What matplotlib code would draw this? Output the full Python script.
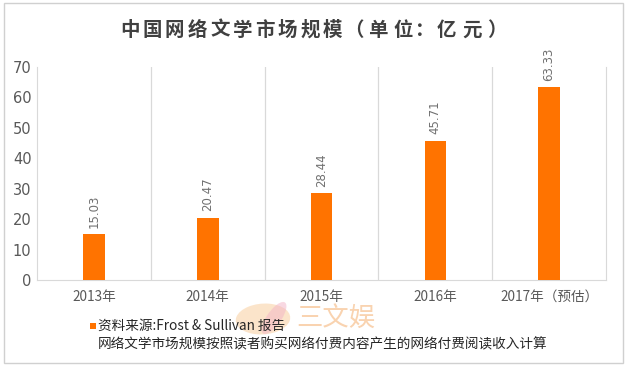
import matplotlib.pyplot as plt
from matplotlib.patches import Rectangle, Ellipse

plt.rcParams['font.family'] = ['Noto Sans CJK SC', 'DejaVu Sans']

# data
years = ["2013年", "2014年", "2015年", "2016年", "2017年（预估）"]
market_size = [15.03, 20.47, 28.44, 45.71, 63.33]
value_labels = ["15.03", "20.47", "28.44", "45.71", "63.33"]
y_ticks = [0, 10, 20, 30, 40, 50, 60, 70]
title = "中国网络文学市场规模（单位：亿元）"
source_note = "资料来源:Frost & Sullivan 报告"
method_note = "网络文学市场规模按照读者购买网络付费内容产生的网络付费阅读收入计算"

orange = "#FF7300"
grey_text = "#595959"
grid_grey = "#D9D9D9"

W, H = 628, 368
fig = plt.figure(figsize=(W / 100, H / 100), dpi=100)
ax = fig.add_axes([0.059, 0.239, 0.906, 0.579])

x = range(len(years))
ax.bar(x, market_size, width=0.19, color=orange, zorder=3)

for i, v in enumerate(market_size):
    ax.text(i, v + 2.2, value_labels[i], rotation=90, ha="center", va="bottom",
            fontsize=8.5, color="#707070", family=["DejaVu Sans"])

ax.set_xlim(-0.5, len(years) - 0.5)
ax.set_ylim(0, 70)
ax.set_yticks(y_ticks)
ax.set_yticklabels([str(t) for t in y_ticks], fontsize=10.5, color=grey_text,
                   family=["DejaVu Sans"])
ax.set_xticks(list(x))
ax.set_xticklabels(years, fontsize=9.8, color=grey_text)
ax.tick_params(axis="both", length=0)
ax.tick_params(axis="x", pad=7)
ax.tick_params(axis="y", pad=4)

# separators between categories
for b in [0.5, 1.5, 2.5, 3.5]:
    ax.axvline(b, color=grid_grey, lw=0.9, zorder=1)

ax.spines["top"].set_visible(False)
ax.spines["left"].set_color(grid_grey)
ax.spines["right"].set_color(grid_grey)
ax.spines["bottom"].set_color(grid_grey)

# title with wide letter spacing: glyph centres in pixels
title_x = [129.5 + 22.6 * i for i in range(10)] + [354, 378, 403, 425, 446, 472, 497]
for ch, px in zip(title, title_x):
    fig.text(px / W, 0.918, ch, ha="center", va="center", fontsize=14,
             fontweight="bold", color="#404040")

# faint watermark (logo + name)
fig.patches.append(Ellipse((263 / W, 1 - 319 / H), 56 / W, 30 / H, angle=35,
                           transform=fig.transFigure, facecolor="#F9CFA0",
                           edgecolor="none", alpha=0.55))
fig.patches.append(Ellipse((274 / W, 1 - 318 / H), 16 / W, 34 / H, angle=-20,
                           transform=fig.transFigure, facecolor="#F3B3C6",
                           edgecolor="none", alpha=0.5))
fig.text(336 / W, 1 - 318 / H, "三文娱", ha="center", va="center", fontsize=19,
         fontweight="light", color="#F9D3B0")

# legend / note
fig.patches.append(Rectangle((0.1435, 0.105), 0.0095, 0.017, transform=fig.transFigure,
                             facecolor=orange, edgecolor="none"))
fig.text(0.156, 0.115, source_note, ha="left", va="center",
         fontsize=9.8, color="#262626")
fig.text(0.156, 0.063, method_note, ha="left", va="center",
         fontsize=9.8, color="#262626")

# outer border
fig.patches.append(Rectangle((0.006, 0.014), 0.986, 0.978, transform=fig.transFigure,
                             facecolor="none", edgecolor="#D0D0D0", lw=1))

fig.savefig("out.png", dpi=100)
